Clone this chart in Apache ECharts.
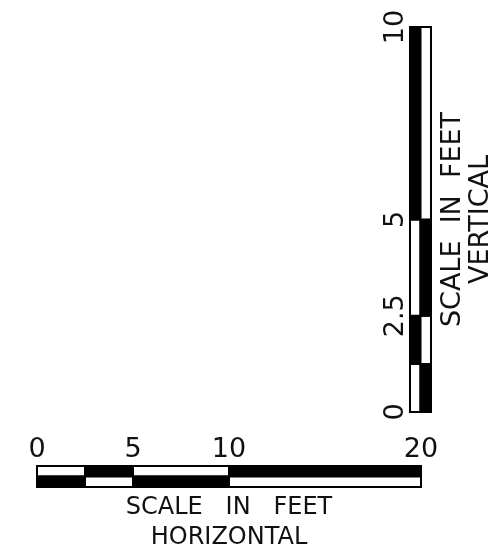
<!DOCTYPE html>
<html><head><meta charset="utf-8">
<script src="https://cdn.jsdelivr.net/npm/echarts@6/dist/echarts.min.js"></script>
<style>html,body{margin:0;padding:0;background:#fff}#c{width:490px;height:550px}</style>
</head><body><div id="c"></div>
<script>
// Horizontal scale bar: segment break points (feet) and labelled ticks
const hBreaks = [0, 2.5, 5, 10, 20];
const hTicks = [0, 5, 10, 20];
// Vertical scale bar: segment break points (feet) and labelled ticks
const vBreaks = [0, 1.25, 2.5, 5, 10];
const vTicks = [0, 2.5, 5, 10];
const hTitle = ['SCALE   IN   FEET', 'HORIZONTAL'];
const vTitle = ['SCALE  IN  FEET', 'VERTICAL'];

function segs(breaks) {
  const out = [];
  for (let i = 0; i < breaks.length - 1; i++) out.push([breaks[i], breaks[i + 1], i]);
  return out;
}
const FONT = 'DejaVu Sans';
const INK = '#111';
const LW = 2;

function hRender(params, api) {
  const a = api.value(0), b = api.value(1), i = api.value(2);
  const p0 = api.coord([a, 2]), p1 = api.coord([b, 1]), p2 = api.coord([b, 0]);
  const topFill = i % 2 === 0 ? '#fff' : '#000';
  const botFill = i % 2 === 0 ? '#000' : '#fff';
  return { type: 'group', children: [
    { type: 'rect', shape: { x: p0[0], y: p0[1], width: p1[0] - p0[0], height: p1[1] - p0[1] }, style: { fill: topFill, stroke: '#000', lineWidth: LW } },
    { type: 'rect', shape: { x: p0[0], y: p1[1], width: p1[0] - p0[0], height: p2[1] - p1[1] }, style: { fill: botFill, stroke: '#000', lineWidth: LW } }
  ]};
}
function vRender(params, api) {
  const a = api.value(0), b = api.value(1), i = api.value(2);
  const p0 = api.coord([0, b]), p1 = api.coord([1, a]), p2 = api.coord([2, a]);
  const leftFill = i % 2 === 0 ? '#fff' : '#000';
  const rightFill = i % 2 === 0 ? '#000' : '#fff';
  return { type: 'group', children: [
    { type: 'rect', shape: { x: p0[0], y: p0[1], width: p1[0] - p0[0], height: p1[1] - p0[1] }, style: { fill: leftFill, stroke: '#000', lineWidth: LW } },
    { type: 'rect', shape: { x: p1[0], y: p0[1], width: p2[0] - p1[0], height: p1[1] - p0[1] }, style: { fill: rightFill, stroke: '#000', lineWidth: LW } }
  ]};
}
const hidden = { axisLine: { show: false }, axisTick: { show: false }, splitLine: { show: false } };

const chart = echarts.init(document.getElementById('c'), null, { renderer: 'canvas' });
chart.setOption({
  animation: false,
  backgroundColor: '#fff',
  grid: [
    { left: 37, top: 466, width: 384, height: 21, outerBoundsMode: 'none', containLabel: false },
    { left: 410, top: 27, width: 21, height: 385, outerBoundsMode: 'none', containLabel: false }
  ],
  xAxis: [
    Object.assign({ gridIndex: 0, type: 'value', min: 0, max: 20, position: 'top',
      axisLabel: { customValues: hTicks, fontSize: 27, margin: 3, color: INK, fontFamily: FONT } }, hidden),
    Object.assign({ gridIndex: 0, type: 'value', min: 0, max: 20, position: 'bottom',
      axisLabel: { show: false }, name: hTitle.join('\n'), nameLocation: 'middle', nameGap: 6,
      nameTextStyle: { fontSize: 24, lineHeight: 30, color: INK, fontFamily: FONT } }, hidden),
    { gridIndex: 1, type: 'value', min: 0, max: 2, show: false }
  ],
  yAxis: [
    { gridIndex: 0, type: 'value', min: 0, max: 2, show: false },
    Object.assign({ gridIndex: 1, type: 'value', min: 0, max: 10, position: 'left',
      axisLabel: { customValues: vTicks, rotate: 90, fontSize: 27, margin: 1, color: INK, fontFamily: FONT } }, hidden),
    Object.assign({ gridIndex: 1, type: 'value', min: 0, max: 10, position: 'right',
      axisLabel: { show: false }, name: vTitle.join('\n'), nameLocation: 'middle', nameRotate: 90, nameGap: 8,
      nameTextStyle: { fontSize: 27, lineHeight: 28, color: INK, fontFamily: FONT } }, hidden)
  ],
  series: [
    { type: 'custom', xAxisIndex: 0, yAxisIndex: 0, data: segs(hBreaks), encode: { x: [0, 1] }, renderItem: hRender },
    { type: 'custom', xAxisIndex: 2, yAxisIndex: 1, data: segs(vBreaks), encode: { y: [0, 1] }, renderItem: vRender }
  ]
});
</script></body></html>
